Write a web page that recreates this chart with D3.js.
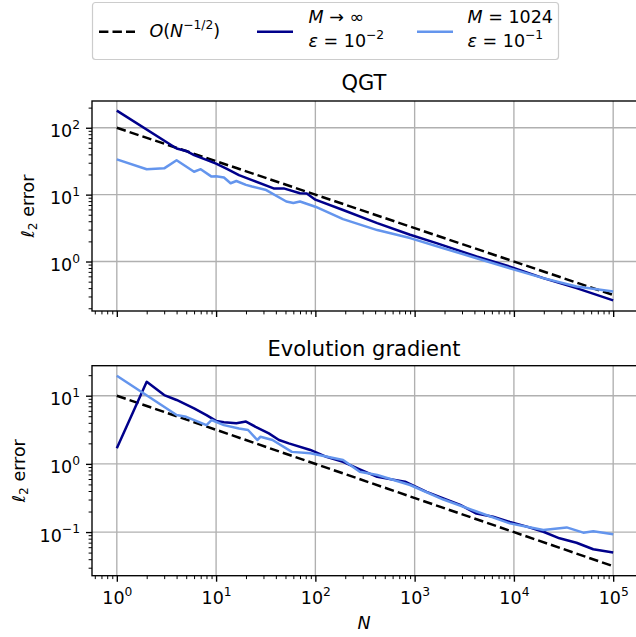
<!DOCTYPE html>
<meta charset="utf-8">
<style>
    body { margin: 0; background: #fff; }
    text { font-family: "DejaVu Sans", sans-serif; fill: #000; }
    .grid line { stroke: #b0b0b0; stroke-width: 1.36; }
    .axis path { display: none; }
    .axis line { stroke: #000; }
</style>
<svg width="636" height="637"></svg>
<script src="https://cdn.jsdelivr.net/npm/d3@7/dist/d3.min.js"></script>
<script>

    // reference slope O(N^-1/2), end points only
    var refN = [1, 100000];
    var qgtRef = [100, 0.316];
    var evoRef = [10, 0.0316];

    // QGT panel, M -> inf, eps = 1e-2
    var qgtExactN = [1, 4, 5, 6, 8, 10, 13, 17, 23, 38, 48, 70, 82, 100, 190, 420, 900, 1660, 4200, 9100, 19800, 42700, 100000];
    var qgtExact  = [180, 49, 45, 39, 33, 29, 24, 19.6, 16.5, 12.4, 12.4, 10.5, 10.4, 8.4, 5.9, 3.74, 2.51, 1.88, 1.19, 0.84, 0.565, 0.40, 0.262];

    // QGT panel, M = 1024, eps = 1e-1
    var qgtShotsN = [1, 2, 3, 4, 6, 7, 9, 10, 12, 14, 16, 20, 23, 32, 51, 60, 70, 100, 190, 420, 900, 1950, 4200, 9100, 19800, 42700, 100000];
    var qgtShots  = [33.7, 24, 24.7, 32.6, 22, 24, 18.6, 18.8, 18, 14.8, 16, 14, 13.2, 11.7, 7.9, 7.5, 7.9, 6.6, 4.3, 2.95, 2.24, 1.58, 1.12, 0.79, 0.565, 0.424, 0.357];

    // evolution gradient panel, M -> inf
    var evoExactN = [1, 2, 3, 4, 6, 8, 10, 12, 16, 20, 25, 34, 43, 54, 89, 129, 190, 280, 420, 800, 1320, 1950, 2880, 4200, 6170, 9100, 13500, 19800, 28800, 42700, 63000, 100000];
    var evoExact  = [1.69, 16, 10.2, 8.65, 6.5, 5.2, 4.27, 4.07, 3.94, 4.17, 3.5, 2.8, 2.24, 2.0, 1.6, 1.27, 1.07, 0.83, 0.645, 0.548, 0.389, 0.312, 0.25, 0.187, 0.168, 0.141, 0.12, 0.101, 0.081, 0.0697, 0.056, 0.05];

    // evolution gradient panel, M = 1024
    var evoShotsN = [1, 4, 5, 8, 9, 12, 17, 21, 26, 28, 37, 58, 89, 190, 280, 420, 900, 1950, 4200, 9100, 13500, 19800, 34000, 50000, 63000, 100000];
    var evoShots  = [19.6, 5.2, 4.9, 3.7, 4.4, 3.7, 3.3, 3.14, 2.24, 2.5, 2.24, 1.5, 1.43, 1.14, 0.767, 0.687, 0.49, 0.30, 0.2, 0.134, 0.12, 0.107, 0.117, 0.098, 0.103, 0.093];

    var xMajor = [1, 10, 100, 1000, 10000, 100000];
    var qgtMajor = [1, 10, 100];
    var evoMajor = [0.1, 1, 10];

    var dark = "#00008b", light = "#6495ed";
    var left = 92, right = 638;

    var svg = d3.select("svg");

    var x = d3.scaleLog()
        .domain([Math.pow(10, -0.25), Math.pow(10, 5.25)])
        .range([left, right]);

    function minors(domain) {
        var out = [];
        var lo = Math.floor(Math.log10(domain[0])), hi = Math.ceil(Math.log10(domain[1]));
        for (var e = lo; e <= hi; e++) {
            for (var k = 2; k <= 9; k++) {
                var v = k * Math.pow(10, e);
                if (v >= domain[0] && v <= domain[1]) out.push(v);
            }
        }
        return out;
    }

    function powLabel(sel) {
        sel.each(function(d) {
            var t = d3.select(this).text(null);
            var e = Math.round(Math.log10(d));
            t.append("tspan").text("10");
            t.append("tspan")
                .attr("font-size", 12.3)
                .attr("dy", -8.4)
                .text(String(e).replace("-", "\u2212"));
        });
    }

    function panel(o) {
        var y = d3.scaleLog().domain(o.yDomain).range([o.bottom, o.top]);
        var g = svg.append("g");

        // grid
        var grid = g.append("g").attr("class", "grid");
        grid.selectAll(".gx").data(xMajor).enter().append("line")
            .attr("x1", function(d) { return x(d); })
            .attr("x2", function(d) { return x(d); })
            .attr("y1", o.top).attr("y2", o.bottom);
        grid.selectAll(".gy").data(o.yMajor).enter().append("line")
            .attr("x1", left).attr("x2", right)
            .attr("y1", function(d) { return y(d); })
            .attr("y2", function(d) { return y(d); });

        // series
        var line = d3.line()
            .x(function(d) { return x(d[0]); })
            .y(function(d) { return y(d[1]); });

        o.series.forEach(function(s) {
            g.append("path")
                .datum(d3.zip(s.n, s.v))
                .attr("fill", "none")
                .attr("stroke", s.color)
                .attr("stroke-width", 2.5)
                .attr("stroke-linejoin", "round")
                .attr("stroke-dasharray", s.dash || null)
                .attr("d", line);
        });

        // spines
        g.append("rect")
            .attr("x", left).attr("y", o.top)
            .attr("width", right - left).attr("height", o.bottom - o.top)
            .attr("fill", "none").attr("stroke", "#000").attr("stroke-width", 1.36);

        // y axis
        var gy = g.append("g").attr("class", "axis")
            .attr("transform", "translate(" + left + ",0)")
            .call(d3.axisLeft(y).tickValues(o.yMajor).tickSize(6).tickPadding(6));
        gy.selectAll("line").attr("stroke-width", 1.36);
        gy.selectAll("text")
            .attr("font-size", 17.5)
            .attr("font-family", "DejaVu Sans")
            .attr("dy", 9)
            .call(powLabel);
        g.append("g").attr("class", "axis")
            .attr("transform", "translate(" + left + ",0)")
            .call(d3.axisLeft(y).tickValues(minors(o.yDomain)).tickSize(3.4).tickFormat(""))
            .selectAll("line").attr("stroke-width", 1.0);

        // x axis
        var gx = g.append("g").attr("class", "axis")
            .attr("transform", "translate(0," + o.bottom + ")")
            .call(d3.axisBottom(x).tickValues(xMajor).tickSize(6));
        gx.selectAll("line").attr("stroke-width", 1.36);
        if (o.xLabels) {
            gx.selectAll("text")
                .attr("font-size", 17.5)
                .attr("font-family", "DejaVu Sans")
                .attr("y", 28.3).attr("dy", 0)
                .call(powLabel);
        } else {
            gx.selectAll("text").remove();
        }
        g.append("g").attr("class", "axis")
            .attr("transform", "translate(0," + o.bottom + ")")
            .call(d3.axisBottom(x).tickValues(minors(x.domain())).tickSize(3.4).tickFormat(""))
            .selectAll("line").attr("stroke-width", 1.0);

        // title
        g.append("text")
            .attr("x", (left + right) / 2 - 1)
            .attr("y", o.titleY)
            .attr("text-anchor", "middle")
            .attr("font-size", 21)
            .text(o.title);

        // y label
        var yl = g.append("text")
            .attr("text-anchor", "middle")
            .attr("font-size", 17.5)
            .attr("transform", "translate(" + o.ylabelX + "," + ((o.top + o.bottom) / 2) + ")rotate(-90)");
        yl.append("tspan").attr("font-style", "italic").text("\u2113");
        yl.append("tspan").attr("font-size", 12.3).attr("dy", 3).text("2");
        yl.append("tspan").attr("dy", -3).text(" error");
    }

    panel({
        top: 101, bottom: 311,
        yDomain: [Math.pow(10, -0.74), Math.pow(10, 2.4)],
        yMajor: qgtMajor,
        title: "QGT", titleY: 90,
        ylabelX: 34, xLabels: false,
        series: [
            { n: refN, v: qgtRef, color: "#000", dash: "9.4,4.1" },
            { n: qgtExactN, v: qgtExact, color: dark },
            { n: qgtShotsN, v: qgtShots, color: light }
        ]
    });

    panel({
        top: 365.7, bottom: 575.7,
        yDomain: [Math.pow(10, -1.64), Math.pow(10, 1.44)],
        yMajor: evoMajor,
        title: "Evolution gradient", titleY: 356,
        ylabelX: 25, xLabels: true,
        series: [
            { n: refN, v: evoRef, color: "#000", dash: "9.4,4.1" },
            { n: evoExactN, v: evoExact, color: dark },
            { n: evoShotsN, v: evoShots, color: light }
        ]
    });

    // x label
    svg.append("text")
        .attr("x", 364).attr("y", 629)
        .attr("text-anchor", "middle")
        .attr("font-size", 17.5)
        .attr("font-style", "italic")
        .text("N");

    // legend
    var lg = svg.append("g");
    lg.append("rect")
        .attr("x", 92.5).attr("y", 2.5)
        .attr("width", 466).attr("height", 57)
        .attr("rx", 3)
        .attr("fill", "#fff").attr("stroke", "#cccccc").attr("stroke-width", 1.2);

    function handle(x0, color, dash) {
        lg.append("line")
            .attr("x1", x0).attr("x2", x0 + 36)
            .attr("y1", 31.7).attr("y2", 31.7)
            .attr("stroke", color).attr("stroke-width", 2.5)
            .attr("stroke-dasharray", dash || null);
    }

    function mathText(x0, y0, parts) {
        var t = lg.append("text").attr("x", x0).attr("y", y0).attr("font-size", 17.5);
        parts.forEach(function(p) {
            var s = t.append("tspan").text(p[0]);
            if (p[1] === "i") s.attr("font-style", "italic");
            if (p[1] === "sup") s.attr("font-size", 12.3).attr("dy", -8);
            if (p[1] === "down") s.attr("dy", 8);
        });
    }

    handle(99, "#000", "9.4,4.1");
    mathText(149.5, 36.7, [["O", "i"], ["("], ["N", "i"], ["\u22121/2", "sup"], [")", "down"]]);

    handle(257, dark);
    mathText(308.5, 22.7, [["M", "i"], [" \u2192 \u221e"]]);
    mathText(308.5, 46.7, [["\u03b5", "i"], [" = 10"], ["\u22122", "sup"]]);

    handle(417, light);
    mathText(467.5, 22.7, [["M", "i"], [" = 1024"]]);
    mathText(467.5, 46.7, [["\u03b5", "i"], [" = 10"], ["\u22121", "sup"]]);

</script>
